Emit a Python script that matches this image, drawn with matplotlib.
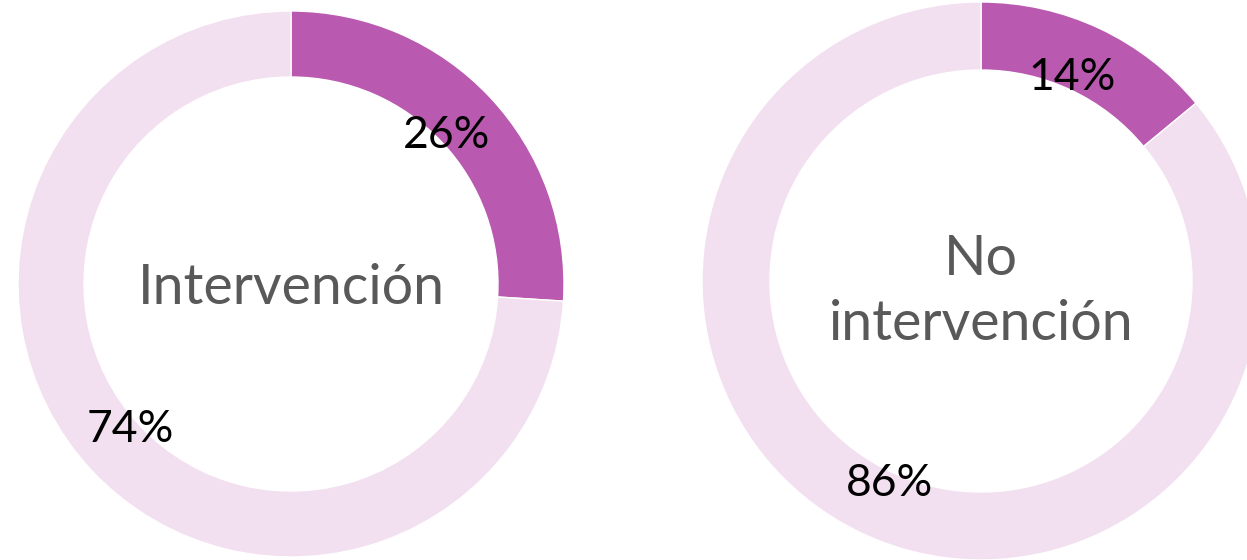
import matplotlib.pyplot as plt

# datos
grupos = ["Intervención", "No\nintervención"]
si = [26, 14]
no = [74, 86]
colores = ["#B95AB0", "#F2E0F0"]

fig = plt.figure(figsize=(12.47, 5.6), dpi=100)
ax = fig.add_axes([0, 0, 1, 1])

# posiciones de cada anillo (en pixeles, y hacia arriba)
centros = [(291, 276), (981, 279)]
radios = [273, 279]
anchos = [66, 68]
pos_si = [(447, 425), (1072, 482)]
pos_no = [(130, 130), (890, 77)]
pos_txt = [(291, 272), (981, 268)]

for i in range(2):
    ax.pie([si[i], no[i]], colors=colores, startangle=90, counterclock=False,
           center=centros[i], radius=radios[i], frame=True,
           wedgeprops=dict(width=anchos[i], edgecolor="white", linewidth=1))
    ax.text(pos_si[i][0], pos_si[i][1], f"{si[i]}%", ha="center", va="center",
            fontsize=32, family="Lato", color="black")
    ax.text(pos_no[i][0], pos_no[i][1], f"{no[i]}%", ha="center", va="center",
            fontsize=32, family="Lato", color="black")
    ax.text(pos_txt[i][0], pos_txt[i][1], grupos[i], ha="center", va="center",
            fontsize=40, family="Lato", color="#595959", linespacing=1.34)

ax.set_xlim(0, 1247)
ax.set_ylim(0, 560)
ax.set_aspect("equal")
ax.axis("off")

fig.savefig("out.png", dpi=100)
